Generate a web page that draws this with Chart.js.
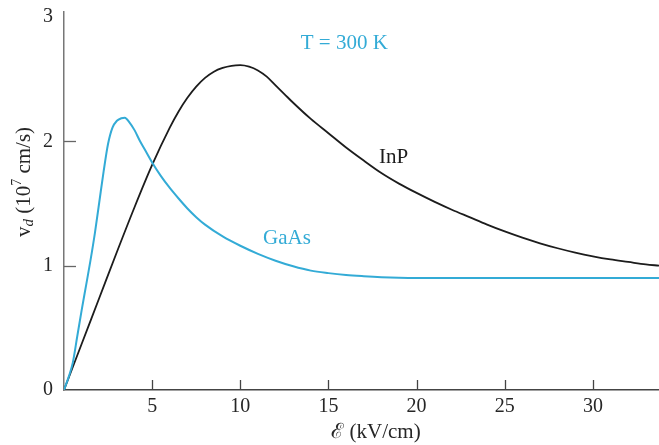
<!DOCTYPE html>
<html><head><meta charset="utf-8">
<script src="https://cdn.jsdelivr.net/npm/chart.js@4/dist/chart.umd.min.js"></script>
<style>html,body{margin:0;padding:0;background:#fff;overflow:hidden}</style>
</head><body>
<canvas id="c" width="659" height="445" style="width:659px;height:445px;display:block"></canvas>
<script>
// Drift velocity vs electric field, T = 300 K
const gaasX = [0, 0.3, 0.5, 0.75, 1.0, 1.25, 1.5, 1.75, 2.0, 2.25, 2.5, 2.75, 3.0, 3.25, 3.45, 3.7, 4.0, 4.3, 4.6, 5.0, 5.5, 6.0, 6.5, 7.0, 7.5, 8.0, 9.0, 10.0, 11.0, 12.0, 13.0, 14.0, 15.0, 16.0, 17.0, 18.0, 19.0, 20, 22, 26, 30, 33.75];
const gaasY = [0, 0.12, 0.22, 0.43, 0.64, 0.84, 1.04, 1.26, 1.51, 1.76, 1.98, 2.11, 2.165, 2.185, 2.19, 2.155, 2.09, 2.005, 1.93, 1.83, 1.72, 1.625, 1.54, 1.46, 1.39, 1.33, 1.235, 1.16, 1.095, 1.04, 0.995, 0.96, 0.94, 0.925, 0.915, 0.907, 0.902, 0.9, 0.9, 0.9, 0.9, 0.9];
const inpX = [0, 1, 2, 3, 4, 5, 6, 6.5, 7, 7.5, 8, 8.5, 9, 9.5, 10, 10.5, 11, 11.5, 12, 12.5, 13, 14, 15, 16, 17, 18, 19, 20, 21, 22, 23, 24, 25, 26, 27, 28, 29, 30, 31, 32, 33, 33.75];
const inpY = [0, 0.37, 0.74, 1.11, 1.47, 1.81, 2.11, 2.24, 2.35, 2.44, 2.51, 2.56, 2.59, 2.607, 2.612, 2.60, 2.57, 2.52, 2.45, 2.38, 2.31, 2.18, 2.065, 1.95, 1.845, 1.745, 1.66, 1.585, 1.515, 1.45, 1.39, 1.33, 1.275, 1.225, 1.18, 1.14, 1.105, 1.075, 1.05, 1.03, 1.01, 1.0];
const xTicks = [5, 10, 15, 20, 25, 30];
const yTicks = [0, 1, 2, 3];
const xTitle = 'ℰ (kV/cm)';
const seriesNames = ['GaAs', 'InP'];
const tempLabel = 'T = 300 K';

const CYAN = '#33abd6';
const BLACK = '#1c1c1c';
const TXT = '#262626';
const SERIF = "'Liberation Serif', 'DejaVu Serif', serif";

const toPts = (xs, ys) => xs.map((x, i) => ({x, y: ys[i]}));

const deco = {
  id: 'deco',
  afterDraw(chart) {
    const ctx = chart.ctx, xs = chart.scales.x, ys = chart.scales.y, ca = chart.chartArea;
    ctx.save();
    // inward tick marks
    ctx.strokeStyle = '#444'; ctx.lineWidth = 1.3;
    xTicks.forEach(v => {
      const px = Math.round(xs.getPixelForValue(v)) + 0.5;
      ctx.beginPath(); ctx.moveTo(px, ca.bottom); ctx.lineTo(px, ca.bottom - 10); ctx.stroke();
    });
    ctx.strokeStyle = '#666';
    yTicks.filter(v => v > 0 && v < 3).forEach(v => {
      const py = Math.round(ys.getPixelForValue(v)) + 0.5;
      ctx.beginPath(); ctx.moveTo(ca.left, py); ctx.lineTo(ca.left + 12, py); ctx.stroke();
    });
    // annotations
    ctx.textAlign = 'center'; ctx.textBaseline = 'middle';
    ctx.font = '21px ' + SERIF;
    ctx.fillStyle = CYAN;
    ctx.fillText(tempLabel, xs.getPixelForValue(15.9), ys.getPixelForValue(2.79));
    ctx.fillText(seriesNames[0], xs.getPixelForValue(12.65), ys.getPixelForValue(1.22));
    ctx.fillStyle = BLACK;
    ctx.fillText(seriesNames[1], xs.getPixelForValue(18.7), ys.getPixelForValue(1.87));
    // x axis title
    ctx.fillStyle = TXT;
    ctx.font = '21px ' + SERIF;
    ctx.fillText(xTitle, 376, 432);
    // y axis title with subscript / superscript
    const parts = [
      {t: 'v', f: '21px ' + SERIF, dy: 0},
      {t: 'd', f: 'italic 15px ' + SERIF, dy: 5},
      {t: ' (10', f: '21px ' + SERIF, dy: 0},
      {t: '7', f: '14px ' + SERIF, dy: -7},
      {t: ' cm/s)', f: '21px ' + SERIF, dy: 0}
    ];
    let w = 0;
    parts.forEach(p => { ctx.font = p.f; p.w = ctx.measureText(p.t).width; w += p.w; });
    ctx.translate(24, 182); ctx.rotate(-Math.PI / 2);
    ctx.textAlign = 'left'; ctx.textBaseline = 'middle';
    let x0 = -w / 2;
    parts.forEach(p => { ctx.font = p.f; ctx.fillText(p.t, x0, p.dy); x0 += p.w; });
    ctx.restore();
  }
};

new Chart(document.getElementById('c'), {
  type: 'line',
  data: {
    datasets: [
      {label: seriesNames[0], data: toPts(gaasX, gaasY), borderColor: CYAN, borderWidth: 2, pointRadius: 0, cubicInterpolationMode: 'monotone', fill: false},
      {label: seriesNames[1], data: toPts(inpX, inpY), borderColor: BLACK, borderWidth: 1.8, pointRadius: 0, cubicInterpolationMode: 'monotone', fill: false}
    ]
  },
  options: {
    responsive: false, animation: false, devicePixelRatio: 1,
    layout: {padding: {top: 12, right: 0, left: 0, bottom: 0}},
    plugins: {legend: {display: false}, tooltip: {enabled: false}},
    scales: {
      x: {
        type: 'linear', min: 0, max: 33.75,
        afterBuildTicks: s => { s.ticks = xTicks.map(v => ({value: v})); },
        afterFit: s => { s.height = 55; s.paddingLeft = 0; s.paddingRight = 0; },
        grid: {display: false, drawTicks: false},
        border: {display: true, color: '#444', width: 1.5},
        ticks: {padding: 5, color: TXT, font: {family: SERIF, size: 20}, maxRotation: 0},
        title: {display: false}
      },
      y: {
        type: 'linear', min: 0, max: 3.04,
        afterBuildTicks: s => { s.ticks = yTicks.map(v => ({value: v})); },
        afterFit: s => { s.width = 64; s.paddingTop = 0; s.paddingBottom = 0; },
        grid: {display: false, drawTicks: false},
        border: {display: true, color: '#777', width: 1.5},
        ticks: {padding: 11, color: TXT, font: {family: SERIF, size: 20}},
        title: {display: false}
      }
    }
  },
  plugins: [deco]
});
</script>
</body></html>
